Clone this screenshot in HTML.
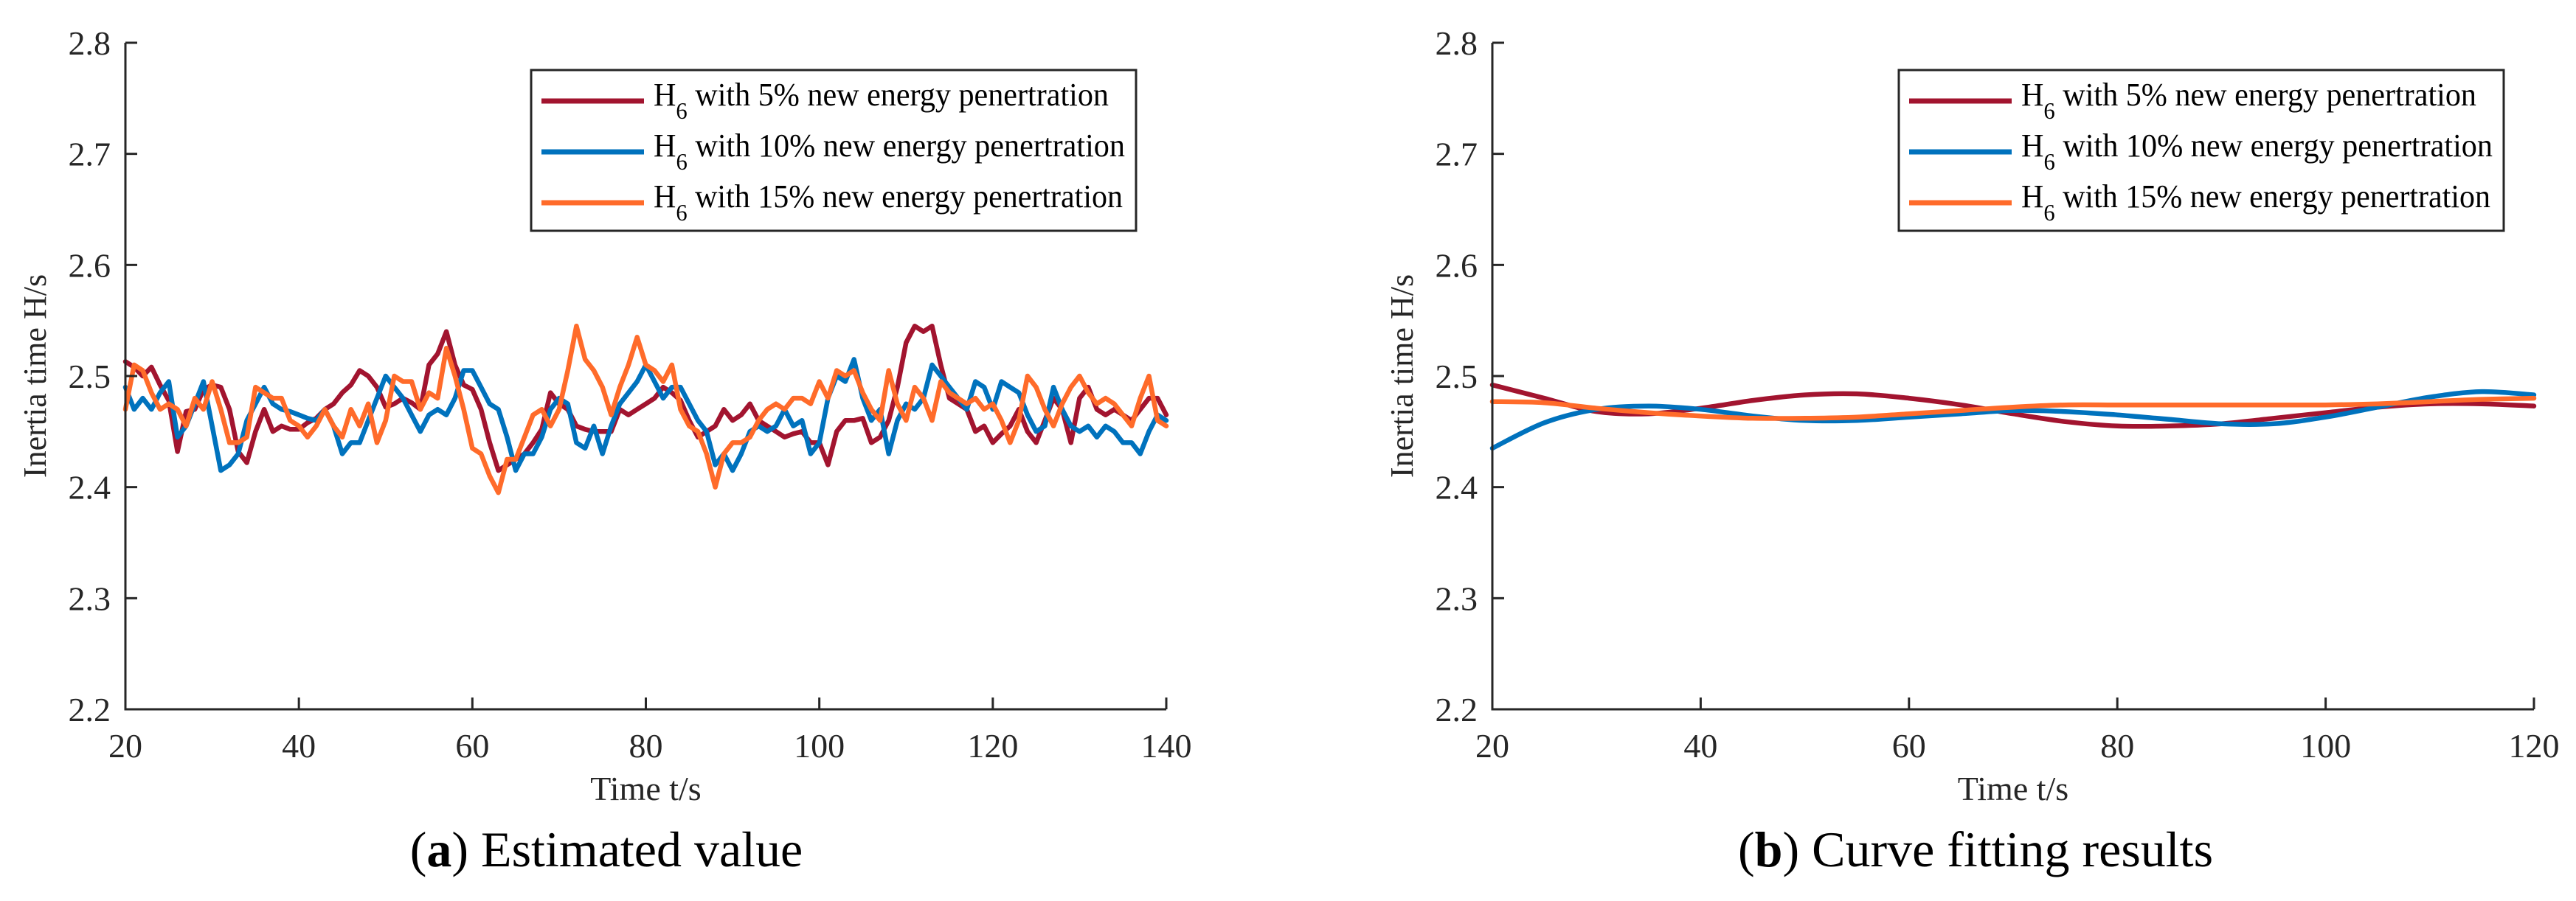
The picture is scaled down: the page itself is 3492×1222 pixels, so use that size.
<!DOCTYPE html>
<html><head><meta charset="utf-8"><style>
html,body{margin:0;padding:0;background:#fff}
svg{display:block;font-family:"Liberation Serif",serif}
</style></head><body>
<svg id="chart" width="3492" height="1222" viewBox="0 0 3492 1222" xmlns="http://www.w3.org/2000/svg"></svg>
<script>
// ---- Panel (a) data: estimated values ----
const tA = [20,21,22,23,24,25,26,27,28,29,30,31,32,33,34,35,36,37,38,39,40,41,42,43,44,45,46,47,48,49,50,51,52,53,54,55,56,57,58,59,60,61,62,63,64,65,66,67,68,69,70,71,72,73,74,75,76,77,78,79,80,81,82,83,84,85,86,87,88,89,90,91,92,93,94,95,96,97,98,99,100,101,102,103,104,105,106,107,108,109,110,111,112,113,114,115,116,117,118,119,120,121,122,123,124,125,126,127,128,129,130,131,132,133,134,135,136,137,138,139,140];
const redA = [2.513,2.508,2.500,2.508,2.492,2.478,2.432,2.468,2.470,2.488,2.492,2.490,2.470,2.432,2.422,2.450,2.470,2.450,2.455,2.452,2.452,2.458,2.462,2.470,2.475,2.485,2.492,2.505,2.500,2.490,2.472,2.475,2.480,2.476,2.470,2.510,2.520,2.540,2.510,2.492,2.488,2.470,2.440,2.415,2.420,2.425,2.430,2.440,2.452,2.485,2.475,2.470,2.455,2.452,2.450,2.450,2.450,2.470,2.465,2.470,2.475,2.480,2.490,2.485,2.478,2.460,2.445,2.450,2.455,2.470,2.460,2.465,2.475,2.460,2.455,2.450,2.445,2.448,2.450,2.440,2.440,2.420,2.450,2.460,2.460,2.462,2.440,2.445,2.460,2.490,2.530,2.545,2.540,2.545,2.510,2.480,2.475,2.470,2.450,2.455,2.440,2.448,2.455,2.470,2.450,2.440,2.460,2.480,2.470,2.440,2.480,2.490,2.470,2.465,2.470,2.465,2.460,2.470,2.480,2.480,2.465];
const blueA = [2.490,2.470,2.480,2.470,2.485,2.495,2.445,2.455,2.475,2.495,2.455,2.415,2.420,2.430,2.460,2.475,2.490,2.475,2.470,2.468,2.465,2.462,2.460,2.470,2.455,2.430,2.440,2.440,2.460,2.480,2.500,2.490,2.480,2.465,2.450,2.465,2.470,2.465,2.480,2.505,2.505,2.490,2.475,2.470,2.445,2.415,2.430,2.430,2.445,2.470,2.480,2.475,2.440,2.435,2.455,2.430,2.455,2.475,2.485,2.495,2.510,2.495,2.480,2.490,2.490,2.475,2.460,2.450,2.420,2.430,2.415,2.430,2.450,2.455,2.450,2.455,2.470,2.455,2.460,2.430,2.440,2.480,2.500,2.495,2.515,2.480,2.460,2.470,2.430,2.460,2.475,2.470,2.480,2.510,2.500,2.490,2.480,2.470,2.495,2.490,2.470,2.495,2.490,2.485,2.465,2.450,2.455,2.490,2.470,2.455,2.450,2.455,2.445,2.455,2.450,2.440,2.440,2.430,2.450,2.465,2.460];
const orangeA = [2.470,2.510,2.505,2.485,2.470,2.475,2.470,2.455,2.480,2.470,2.495,2.470,2.440,2.440,2.445,2.490,2.485,2.480,2.480,2.460,2.455,2.445,2.455,2.470,2.455,2.445,2.470,2.455,2.475,2.440,2.460,2.500,2.495,2.495,2.470,2.485,2.480,2.525,2.500,2.470,2.435,2.430,2.410,2.395,2.425,2.425,2.445,2.465,2.470,2.455,2.470,2.505,2.545,2.515,2.505,2.490,2.465,2.490,2.510,2.535,2.510,2.505,2.495,2.510,2.470,2.455,2.450,2.430,2.400,2.430,2.440,2.440,2.445,2.460,2.470,2.475,2.470,2.480,2.480,2.475,2.495,2.480,2.505,2.500,2.505,2.485,2.470,2.460,2.505,2.475,2.460,2.490,2.480,2.460,2.495,2.485,2.480,2.475,2.480,2.470,2.475,2.460,2.440,2.460,2.500,2.490,2.470,2.455,2.475,2.490,2.500,2.485,2.475,2.480,2.475,2.465,2.455,2.480,2.500,2.460,2.455];
// ---- Panel (b) data: fitted curves ----
const tB = [20,25,30,35,40,45,50,55,60,65,70,75,80,85,90,95,100,105,110,115,120];
const redB = [2.492,2.480,2.468,2.466,2.471,2.478,2.483,2.484,2.480,2.474,2.466,2.459,2.455,2.455,2.457,2.462,2.467,2.472,2.475,2.475,2.473];
const blueB = [2.435,2.458,2.470,2.473,2.470,2.464,2.460,2.460,2.463,2.466,2.469,2.468,2.465,2.461,2.457,2.457,2.463,2.472,2.481,2.486,2.483];
const orangeB = [2.477,2.476,2.471,2.467,2.464,2.462,2.462,2.463,2.466,2.469,2.472,2.474,2.474,2.474,2.474,2.474,2.474,2.475,2.477,2.479,2.480];
const yTicks = [2.2,2.3,2.4,2.5,2.6,2.7,2.8];
const yTickLabels = ["2.2","2.3","2.4","2.5","2.6","2.7","2.8"];
const xTicksA = [20,40,60,80,100,120,140];
const xTicksB = [20,40,60,80,100,120];
const legendLabels = ["5%","10%","15%"];
const colors = ["#A2142F","#0072BD","#FF6B2A"];

const NS = "http://www.w3.org/2000/svg";
const svg = document.getElementById("chart");
function mk(tag, attrs, parent){
  const e = document.createElementNS(NS, tag);
  for (const k in attrs) e.setAttribute(k, attrs[k]);
  (parent||svg).appendChild(e);
  return e;
}
function smoothPath(pts){
  let d = "M" + pts[0][0].toFixed(1) + "," + pts[0][1].toFixed(1);
  for (let i=0;i<pts.length-1;i++){
    const p0=pts[Math.max(i-1,0)],p1=pts[i],p2=pts[i+1],p3=pts[Math.min(i+2,pts.length-1)];
    const c1=[p1[0]+(p2[0]-p0[0])/6,p1[1]+(p2[1]-p0[1])/6];
    const c2=[p2[0]-(p3[0]-p1[0])/6,p2[1]-(p3[1]-p1[1])/6];
    d+=" C"+c1[0].toFixed(1)+","+c1[1].toFixed(1)+" "+c2[0].toFixed(1)+","+c2[1].toFixed(1)+" "+p2[0].toFixed(1)+","+p2[1].toFixed(1);
  }
  return d;
}

function panel(cfg){
  const g = mk("g", {});
  
  
  const L=cfg.left,R=cfg.right,T=58,B=962;
  const xs = v => L + (v-cfg.xmin)/(cfg.xmax-cfg.xmin)*(R-L);
  const ys = v => B - (v-2.2)/0.6*(B-T);
  cfg.series.forEach((s,i)=>{
    const pts = cfg.t.map((t,j)=>[xs(t), ys(s[j])]);
    const d = cfg.smooth ? smoothPath(pts) : "M"+pts.map(p=>p[0].toFixed(1)+","+p[1].toFixed(1)).join(" L");
    const p = mk("path",{d:d,fill:"none",stroke:colors[i],"stroke-width":6.5,"stroke-linejoin":"round","stroke-linecap":"round"},g);
    
    
  });
  const ax = mk("path",{d:`M${L},${T} L${L},${B} L${R},${B}`,fill:"none",stroke:"#262626","stroke-width":3},g);
  
  
  yTicks.forEach((v,i)=>{
    const y=ys(v);
    mk("line",{x1:L,y1:y,x2:L+16,y2:y,stroke:"#262626","stroke-width":3},g);
    const tx = mk("text",{x:L-20,y:y+16,"text-anchor":"end","font-size":46,fill:"#262626"},g);
    tx.textContent = yTickLabels[i];
    
    
  });
  cfg.xticks.forEach(v=>{
    const x=xs(v);
    mk("line",{x1:x,y1:B,x2:x,y2:B-16,stroke:"#262626","stroke-width":3},g);
    const tx = mk("text",{x:x,y:1027,"text-anchor":"middle","font-size":46,fill:"#262626"},g);
    tx.textContent = String(v);
    
    
  });
  const xl = mk("text",{x:(L+R)/2,y:1085,"text-anchor":"middle","font-size":46,fill:"#262626"},g);
  xl.textContent="Time t/s";
  
  
  const yl = mk("text",{x:0,y:0,"text-anchor":"middle","font-size":44,fill:"#262626",transform:`translate(${L-108},510) rotate(-90)`},g);
  yl.textContent="Inertia time H/s";
  
  
  const lg = mk("g",{},g);
  
  
  const lx=cfg.legX;
  mk("rect",{x:lx,y:95,width:820,height:218,fill:"#fff",stroke:"#262626","stroke-width":3},lg);
  const lens=[617,639,636];
  legendLabels.forEach((lab,i)=>{
    const y=137+i*69;
    const ln = mk("line",{x1:lx+14,y1:y,x2:lx+153,y2:y,stroke:colors[i],"stroke-width":7},lg);
    
    
    const t = mk("text",{x:lx+166,y:143+i*69,"font-size":44,fill:"#000",textLength:lens[i],lengthAdjust:"spacingAndGlyphs"},lg);
    
    
    const h = document.createElementNS(NS,"tspan"); h.textContent="H"; t.appendChild(h);
    const s = document.createElementNS(NS,"tspan"); s.setAttribute("font-size","32"); s.setAttribute("dy","18"); s.textContent="6"; t.appendChild(s);
    const r = document.createElementNS(NS,"tspan"); r.setAttribute("dy","-18"); r.textContent=" with "+lab+" new energy penertration"; t.appendChild(r);
  });
  const cap = mk("text",{x:cfg.capX,y:1175,"text-anchor":"middle","font-size":68,fill:"#000"},g);
  
  
  const a1=document.createElementNS(NS,"tspan"); a1.textContent="("; cap.appendChild(a1);
  const a2=document.createElementNS(NS,"tspan"); a2.setAttribute("font-weight","bold"); a2.textContent=cfg.letter; cap.appendChild(a2);
  const a3=document.createElementNS(NS,"tspan"); a3.textContent=") "+cfg.caption; cap.appendChild(a3);
}

panel({name:"panel-a-estimated",left:170,right:1581,xmin:20,xmax:140,t:tA,series:[redA,blueA,orangeA],xticks:xTicksA,smooth:false,legX:720,capX:822,letter:"a",caption:"Estimated value"});
panel({name:"panel-b-curve-fitting",left:2023,right:3435,xmin:20,xmax:120,t:tB,series:[redB,blueB,orangeB],xticks:xTicksB,smooth:true,legX:2574,capX:2678,letter:"b",caption:"Curve fitting results"});
</script>
</body></html>
